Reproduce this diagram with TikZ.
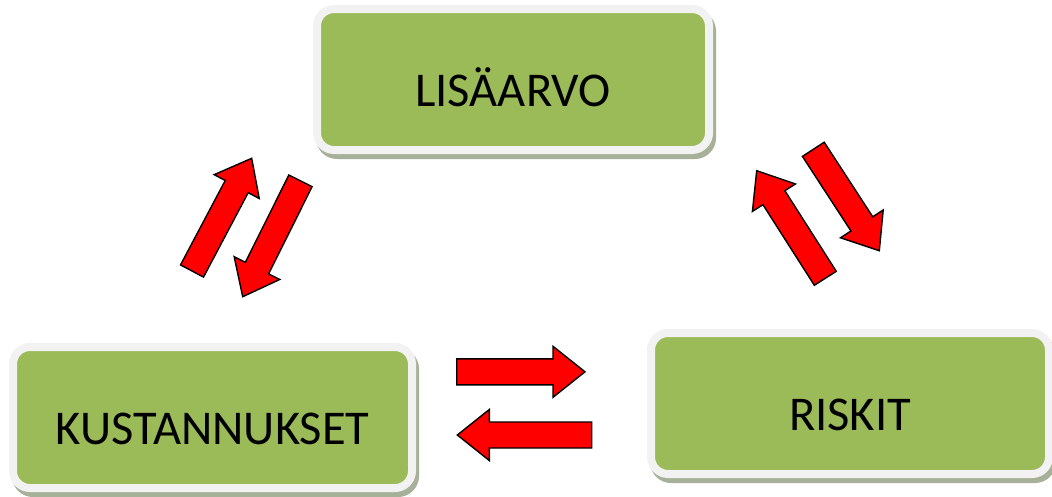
\documentclass[tikz,border=0pt]{standalone}
\usepackage{fontspec}
\setmainfont{Carlito}
\usetikzlibrary{calc}
\definecolor{boxgreen}{HTML}{9BBB59}
\definecolor{boxrim}{HTML}{F2F2F2}
\definecolor{boxshade}{HTML}{A7B098}
\definecolor{arrowred}{HTML}{FF0000}
\tikzset{
  stage/.style={rounded corners=17pt, fill=boxgreen, draw=boxrim, line width=8pt,
    preaction={fill=boxshade, draw=boxshade, line width=8pt,
      transform canvas={xshift=3pt,yshift=-5pt}},
    minimum height=141pt, text height=54pt, text depth=0pt, inner sep=0pt,
    font=\fontsize{48.5}{58}\selectfont},
  flow/.style={fill=arrowred, draw=black, line width=1.4pt, line join=miter}
}
% block arrow from tail centre #1 to tip #2
\newcommand\blockarrow[2]{%
  \draw[flow] ($(#1)!13pt!90:(#2)$) -- ($(#2)!34.54pt!-22.11:(#1)$)
    -- ($(#2)!40.93pt!-38.55:(#1)$) -- (#2)
    -- ($(#2)!40.93pt!38.55:(#1)$) -- ($(#2)!34.54pt!22.11:(#1)$)
    -- ($(#1)!13pt!-90:(#2)$) -- cycle;}
\begin{document}
\begin{tikzpicture}[x=1pt,y=-1pt]
\useasboundingbox (0,0) rectangle (1052,496);

\node[stage, minimum width=392pt] (lisa) at (513,79.5) {LISÄARVO};
\node[stage, minimum width=399pt] (kust) at (212.5,417.5) {KUSTANNUKSET};
\node[stage, minimum width=398pt] (risk) at (850,403.5) {RISKIT};

% between KUSTANNUKSET and LISÄARVO
\coordinate (ku-tail) at (192,271);   \coordinate (ku-tip) at (251.7,158.3);
\coordinate (kd-tail) at (300.5,180.8); \coordinate (kd-tip) at (242.7,296.7);
% between LISÄARVO and RISKIT
\coordinate (rd-tail) at (813.3,149.3); \coordinate (rd-tip) at (879.3,250.7);
\coordinate (ru-tail) at (825.3,278.3); \coordinate (ru-tip) at (756.7,170.7);
% between KUSTANNUKSET and RISKIT
\coordinate (mr-tail) at (456.7,371.8); \coordinate (mr-tip) at (585,371.8);
\coordinate (ml-tail) at (591.7,435);   \coordinate (ml-tip) at (457.3,435);

\blockarrow{ku-tail}{ku-tip}
\blockarrow{kd-tail}{kd-tip}
\blockarrow{rd-tail}{rd-tip}
\blockarrow{ru-tail}{ru-tip}
\blockarrow{mr-tail}{mr-tip}
\blockarrow{ml-tail}{ml-tip}
\end{tikzpicture}
\end{document}
